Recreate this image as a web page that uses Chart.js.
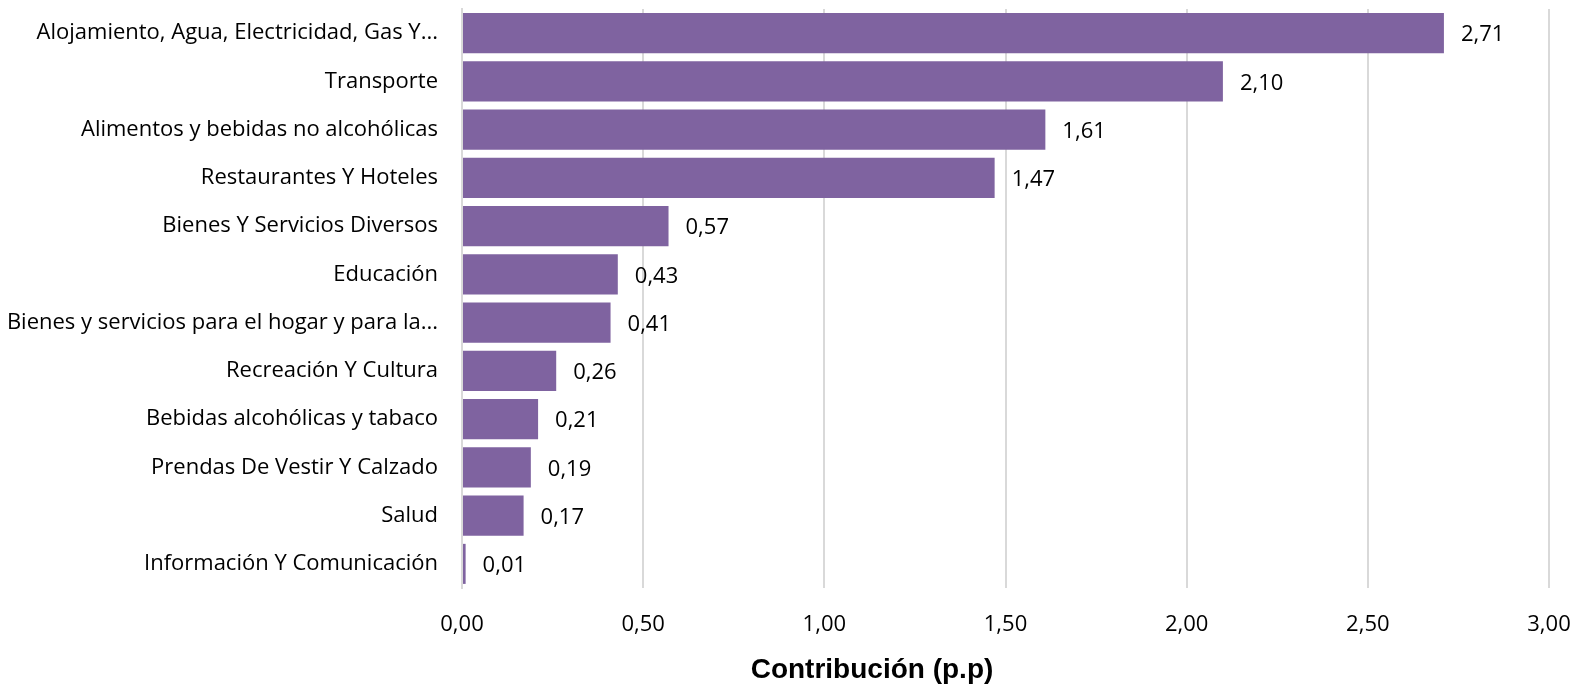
<!DOCTYPE html>
<html>
<head>
<meta charset="utf-8">
<script src="https://cdn.jsdelivr.net/npm/chart.js@4"></script>
<style>
  html, body { margin: 0; padding: 0; background: #ffffff; }
  #wrap { width: 1574px; height: 688px; position: relative; }
</style>
</head>
<body>
<div id="wrap"><canvas id="chart"></canvas></div>
<script>
// datos del gráfico
const categorias = [
  'Alojamiento, Agua, Electricidad, Gas Y...',
  'Transporte',
  'Alimentos y bebidas no alcohólicas',
  'Restaurantes Y Hoteles',
  'Bienes Y Servicios Diversos',
  'Educación',
  'Bienes y servicios para el hogar y para la...',
  'Recreación Y Cultura',
  'Bebidas alcohólicas y tabaco',
  'Prendas De Vestir Y Calzado',
  'Salud',
  'Información Y Comunicación'
];
const contribucion = [2.71, 2.10, 1.61, 1.47, 0.57, 0.43, 0.41, 0.26, 0.21, 0.19, 0.17, 0.01];
const ejeMin = 0;
const ejeMax = 3;
const ejePaso = 0.5;
const tituloEje = 'Contribución (p.p)';

const fmt = (v, d) => v.toFixed(d).replace('.', ',');
const fuente = "'Open Sans', 'Noto Sans', sans-serif";

// etiquetas al final de cada barra + título del eje
const etiquetasBarras = {
  id: 'etiquetasBarras',
  afterDatasetsDraw(chart) {
    const ctx = chart.ctx;
    const meta = chart.getDatasetMeta(0);
    ctx.save();
    ctx.font = '22px ' + fuente;
    ctx.fillStyle = '#000000';
    ctx.textAlign = 'left';
    ctx.textBaseline = 'middle';
    meta.data.forEach((bar, i) => {
      ctx.fillText(fmt(contribucion[i], 2), bar.x + 17, bar.y + 2);
    });
    // título del eje X (en el original no está centrado sobre el área)
    ctx.font = "bold 28px 'Liberation Sans', Arial, sans-serif";
    ctx.textAlign = 'center';
    ctx.fillText(tituloEje, 872, 670);
    ctx.restore();
  }
};

new Chart(document.getElementById('chart'), {
  type: 'bar',
  data: {
    labels: categorias,
    datasets: [{
      data: contribucion,
      backgroundColor: '#7f63a0',
      borderWidth: 0,
      barPercentage: 0.83,
      categoryPercentage: 1
    }]
  },
  options: {
    indexAxis: 'y',
    responsive: true,
    maintainAspectRatio: false,
    animation: false,
    layout: { padding: { top: 9, right: 25, bottom: 0, left: 0 } },
    plugins: {
      legend: { display: false },
      tooltip: { enabled: false }
    },
    scales: {
      x: {
        min: ejeMin,
        max: ejeMax,
        grid: { color: '#d9d9d9', lineWidth: 2, drawTicks: false },
        border: { display: false },
        afterFit: (scale) => {
          scale.height = 100;
          scale.paddingLeft = 0;
          scale.paddingRight = 0;
        },
        ticks: {
          stepSize: ejePaso,
          padding: 24,
          color: '#000000',
          font: { family: fuente, size: 22 },
          callback: (v) => fmt(v, 2)
        }
      },
      y: {
        grid: { display: false, drawTicks: false },
        border: { display: true, color: '#d9d9d9', width: 2 },
        afterFit: (scale) => {
          scale.width = 462;
          scale.paddingTop = 0;
          scale.paddingBottom = 0;
        },
        ticks: {
          padding: 24,
          color: '#000000',
          font: { family: fuente, size: 22 }
        }
      }
    }
  },
  plugins: [etiquetasBarras]
});
</script>
</body>
</html>
